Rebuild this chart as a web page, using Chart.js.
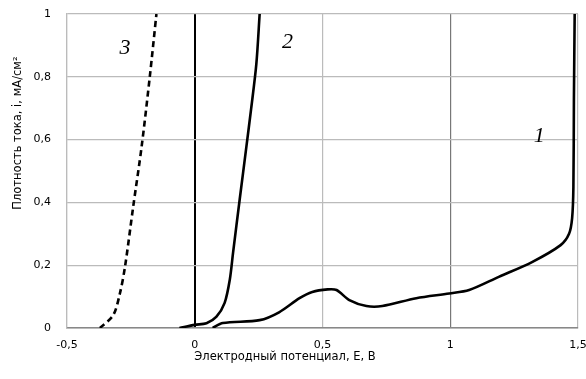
<!DOCTYPE html>
<html lang="ru">
<head>
<meta charset="UTF-8">
<title>Поляризационные кривые</title>
<script src="https://cdn.jsdelivr.net/npm/chart.js"></script>
<style>
    html, body { margin: 0; padding: 0; background: #fff; }
    #wrap { width: 586px; height: 379px; }
</style>
</head>
<body>
<div id="wrap"><canvas id="chart"></canvas></div>
<script>
    // curve 1
    var e1 = [0.07, 0.11, 0.254, 0.33, 0.41, 0.46, 0.52, 0.555, 0.605, 0.672, 0.734, 0.867, 0.996, 1.074, 1.19, 1.32, 1.432, 1.465, 1.477, 1.482, 1.484, 1.487];
    var i1 = [0.0, 0.016, 0.025, 0.05, 0.095, 0.115, 0.123, 0.121, 0.089, 0.07, 0.07, 0.095, 0.11, 0.121, 0.163, 0.21, 0.264, 0.30, 0.35, 0.45, 0.726, 1.0];
    // curve 2
    var e2 = [-0.06, 0.0, 0.046, 0.085, 0.117, 0.137, 0.15, 0.176, 0.202, 0.221, 0.241, 0.254];
    var i2 = [0.0, 0.01, 0.015, 0.036, 0.08, 0.153, 0.24, 0.41, 0.577, 0.70, 0.84, 1.0];
    // curve 3 (dashed)
    var e3 = [-0.371, -0.319, -0.293, -0.273, -0.241, -0.208, -0.176, -0.15];
    var i3 = [0.0, 0.041, 0.11, 0.195, 0.386, 0.577, 0.80, 1.0];

    var xTicks = [-0.5, 0, 0.5, 1, 1.5];
    var yTicks = [0, 0.2, 0.4, 0.6, 0.8, 1];
    var curveNames = ['1', '2', '3'];
    var nameE = [1.348, 0.363, -0.273];
    var nameI = [0.61, 0.91, 0.89];
    var xTitle = 'Электродный потенциал, E, B';
    var yTitle = 'Плотность тока, i, мА/см²';

    function pts(xs, ys) {
        return xs.map(function (x, k) { return { x: x, y: ys[k] }; });
    }
    function comma(v) { return String(v).replace('.', ','); }

    var extraText = {
        id: 'extraText',
        afterDatasetsDraw: function (chart) {
            var ctx = chart.ctx;
            var sx = chart.scales.x, sy = chart.scales.y;
            ctx.save();
            ctx.font = 'italic 22px "Liberation Serif"';
            ctx.fillStyle = '#000';
            ctx.textAlign = 'center';
            ctx.textBaseline = 'middle';
            curveNames.forEach(function (n, k) {
                ctx.fillText(n, sx.getPixelForValue(nameE[k]), sy.getPixelForValue(nameI[k]));
            });
            // axis titles, placed like the original (a bit off-centre)
            ctx.font = '11.5px "DejaVu Sans"';
            ctx.fillText(xTitle, 285, 357);
            ctx.translate(18, 133);
            ctx.rotate(-Math.PI / 2);
            ctx.fillText(yTitle, 0, 0);
            ctx.restore();
        }
    };

    var line = { showLine: true, pointRadius: 0, borderColor: '#000', borderWidth: 2.6, tension: 0.3, fill: false };

    new Chart(document.getElementById('chart'), {
        type: 'scatter',
        data: {
            datasets: [
                Object.assign({ label: '1', data: pts(e1, i1) }, line),
                Object.assign({ label: '2', data: pts(e2, i2) }, line),
                Object.assign({ label: '3', data: pts(e3, i3), borderDash: [6, 4] }, line)
            ]
        },
        options: {
            responsive: true,
            maintainAspectRatio: false,
            animation: false,
            layout: { padding: { left: 0, right: 8, top: 14, bottom: 0 } },
            plugins: { legend: { display: false }, tooltip: { enabled: false } },
            scales: {
                x: {
                    type: 'linear', min: -0.5, max: 1.5,
                    afterBuildTicks: function (s) { s.ticks = xTicks.map(function (v) { return { value: v }; }); },
                    afterFit: function (s) { s.height = 51; s.paddingLeft = 0; s.paddingRight = 0; },
                    ticks: { padding: 11, color: '#000', font: { family: 'DejaVu Sans', size: 11 }, callback: function (v) { return comma(v); } },
                    grid: {
                        drawTicks: false,
                        color: function (c) { return c.tick && c.tick.value === 0 ? '#000' : (c.tick && c.tick.value === 1 ? '#777' : '#bbb'); },
                        lineWidth: function (c) { return c.tick && c.tick.value === 0 ? 2 : 1.2; }
                    },
                    border: { color: '#888', width: 1.5 }
                },
                y: {
                    type: 'linear', min: 0, max: 1,
                    afterBuildTicks: function (s) { s.ticks = yTicks.map(function (v) { return { value: v }; }); },
                    afterFit: function (s) { s.width = 67; s.paddingTop = 0; s.paddingBottom = 0; },
                    ticks: { padding: 16, color: '#000', font: { family: 'DejaVu Sans', size: 11 }, callback: function (v) { return comma(v); } },
                    grid: { drawTicks: false, color: '#bbb', lineWidth: 1.2 },
                    border: { color: '#bbb', width: 1.2 }
                }
            }
        },
        plugins: [extraText]
    });
</script>
</body>
</html>
